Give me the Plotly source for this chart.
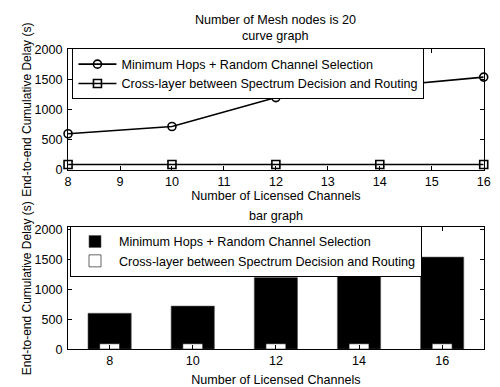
import plotly.graph_objects as go

channels = [8, 10, 12, 14, 16]
min_hops_delay = [600, 720, 1200, 1380, 1540]
cross_layer_delay = [90, 90, 90, 90, 90]
name_a = "Minimum Hops + Random Channel Selection"
name_b = "Cross-layer between Spectrum Decision and Routing"
top_xticks = [8, 9, 10, 11, 12, 13, 14, 15, 16]
bar_xticks = [8, 10, 12, 14, 16]
yticks = [0, 500, 1000, 1500, 2000]

FONT = "Liberation Sans"
FS = 12.6
W, H = 500, 387

def px_x(p):
    return p / W

def px_y(p):
    return (H - p) / H

fig = go.Figure()

fig.add_trace(go.Scatter(
    x=channels, y=min_hops_delay, name=name_a, mode="lines+markers",
    line=dict(color="black", width=1.6),
    marker=dict(symbol="circle-open", size=8, color="black", line=dict(width=1.6)),
    xaxis="x", yaxis="y", legend="legend", cliponaxis=False))
fig.add_trace(go.Scatter(
    x=channels, y=cross_layer_delay, name=name_b, mode="lines+markers",
    line=dict(color="black", width=1.6),
    marker=dict(symbol="square-open", size=8, color="black", line=dict(width=1.6)),
    xaxis="x", yaxis="y", legend="legend", cliponaxis=False))

fig.add_trace(go.Bar(
    x=channels, y=min_hops_delay, name=name_a, width=1.04,
    marker=dict(color="black", line=dict(color="#555555", width=0.6)),
    xaxis="x2", yaxis="y2", legend="legend2"))
fig.add_trace(go.Bar(
    x=channels, y=cross_layer_delay, name=name_b, width=0.48,
    marker=dict(color="white", line=dict(color="black", width=0.6)),
    xaxis="x2", yaxis="y2", legend="legend2"))

xdom = [px_x(65.5), px_x(490.5)]
axis_common = dict(
    showline=True, linecolor="black", linewidth=1, mirror="ticks",
    ticks="inside", ticklen=4, tickwidth=1, tickcolor="black",
    showgrid=False, zeroline=False,
    tickfont=dict(family=FONT, size=FS, color="black"),
)

fig.update_layout(
    width=W, height=H, margin=dict(l=0, r=0, t=0, b=0),
    paper_bgcolor="white", plot_bgcolor="white",
    barmode="overlay",
    font=dict(family=FONT, size=FS, color="black"),
    xaxis=dict(axis_common, domain=xdom, anchor="y", range=[8, 16],
               tickvals=top_xticks,
               title=dict(text="Number of Licensed Channels", standoff=0,
                          font=dict(family=FONT, size=FS))),
    yaxis=dict(axis_common, domain=[px_y(169), px_y(44)], anchor="x",
               range=[0, 2000], tickvals=yticks, ticklabelstandoff=2,
               title=dict(text="End-to-end Cumulative Delay (s)", standoff=0,
                          font=dict(family=FONT, size=12))),
    xaxis2=dict(axis_common, domain=xdom, anchor="y2", range=[7, 17],
                tickvals=bar_xticks,
                title=dict(text="Number of Licensed Channels", standoff=7,
                           font=dict(family=FONT, size=FS))),
    yaxis2=dict(axis_common, domain=[px_y(355), px_y(228.5)], anchor="x2",
                range=[0, 2040], tickvals=yticks, ticklabelstandoff=2,
                title=dict(text="End-to-end Cumulative Delay (s)", standoff=0,
                           font=dict(family=FONT, size=12))),
    legend=dict(x=px_x(70), y=px_y(43), xanchor="left", yanchor="top",
                bgcolor="white", bordercolor="black", borderwidth=1,
                itemwidth=38, font=dict(family=FONT, size=FS),
                tracegroupgap=0),
    legend2=dict(x=px_x(67.5), y=px_y(227), xanchor="left", yanchor="top",
                 bgcolor="white", bordercolor="black", borderwidth=1,
                 itemwidth=38, font=dict(family=FONT, size=FS),
                 tracegroupgap=0),
    annotations=[
        dict(text="Number of Mesh nodes is 20", x=(xdom[0] + xdom[1]) / 2,
             y=px_y(14), xref="paper", yref="paper", showarrow=False,
             xanchor="center", yanchor="middle", font=dict(family=FONT, size=FS)),
        dict(text="curve graph", x=(xdom[0] + xdom[1]) / 2,
             y=px_y(30), xref="paper", yref="paper", showarrow=False,
             xanchor="center", yanchor="middle", font=dict(family=FONT, size=FS)),
        dict(text="bar graph", x=(xdom[0] + xdom[1]) / 2,
             y=px_y(216.5), xref="paper", yref="paper", showarrow=False,
             xanchor="center", yanchor="middle", font=dict(family=FONT, size=FS)),
    ],
)

fig.write_html("out.html")
